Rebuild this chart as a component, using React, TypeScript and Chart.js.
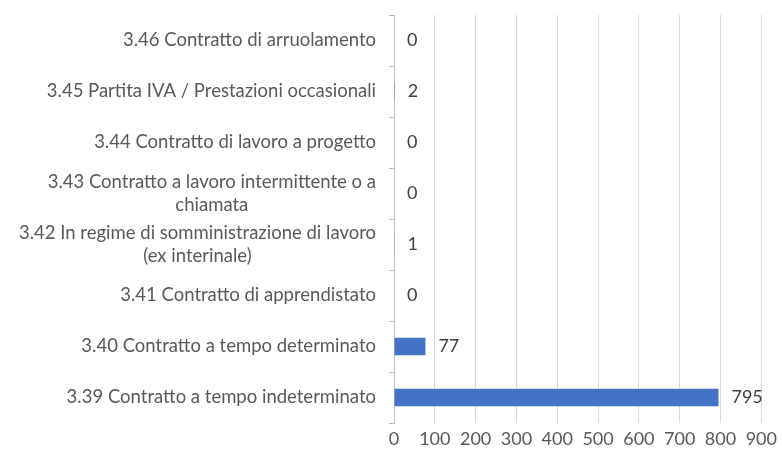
import { useEffect, useRef } from "react";
import { Chart, registerables } from "chart.js";
Chart.register(...registerables);

const categories: string[][] = [
  ["3.46 Contratto di arruolamento"],
  ["3.45 Partita IVA / Prestazioni occasionali"],
  ["3.44 Contratto di lavoro a progetto"],
  ["3.43 Contratto a lavoro intermittente o a", "chiamata"],
  ["3.42 In regime di somministrazione di lavoro", "(ex interinale)"],
  ["3.41 Contratto di apprendistato"],
  ["3.40 Contratto a tempo determinato"],
  ["3.39 Contratto a tempo indeterminato"],
];
const values = [0, 2, 0, 0, 1, 0, 77, 795];
const xMin = 0;
const xMax = 900;
const xStep = 100;

const FONT = "Lato";
const FS = 18.5;
const TICK_FS = 18;
const LH = 23;
const TEXT = "#595959";

const labelPlugin = {
  id: "customLabels",
  afterDraw(chart: any) {
    const ctx = chart.ctx;
    const ys = chart.scales.y;
    const area = chart.chartArea;
    ctx.save();
    ctx.font = `${FS}px ${FONT}`;
    ctx.fillStyle = TEXT;
    ctx.textBaseline = "middle";
    ctx.textAlign = "center";
    const right = area.left - 18;
    categories.forEach((lines, i) => {
      const cy = ys.getPixelForValue(i);
      const maxW = Math.max(...lines.map((l) => ctx.measureText(l).width));
      const cx = right - maxW / 2;
      lines.forEach((l, j) => {
        ctx.fillText(l, cx, cy + (j - (lines.length - 1) / 2) * LH);
      });
    });
    // value labels
    const meta = chart.getDatasetMeta(0);
    ctx.font = `${TICK_FS}px ${FONT}`;
    ctx.textAlign = "left";
    ctx.fillStyle = "#404040";
    meta.data.forEach((el: any, i: number) => {
      ctx.fillText(String(values[i]), el.x + 13, el.y);
    });
    ctx.restore();
  },
};

export default function App() {
  const ref = useRef<HTMLCanvasElement>(null);
  useEffect(() => {
    if (!ref.current) return;
    const chart = new Chart(ref.current, {
      type: "bar",
      data: {
        labels: categories.map((c) => c.join(" ")),
        datasets: [
          {
            data: values,
            backgroundColor: "#4472C4",
            borderWidth: 0,
            barPercentage: 0.34,
            categoryPercentage: 1,
          },
        ],
      },
      options: {
        indexAxis: "y",
        animation: false,
        responsive: false,
        maintainAspectRatio: false,
        layout: { padding: { left: 0, right: 16, top: 15, bottom: 0 } },
        plugins: { legend: { display: false }, tooltip: { enabled: false } },
        scales: {
          x: {
            min: xMin,
            max: xMax,
            ticks: {
              stepSize: xStep,
              color: TEXT,
              font: { family: FONT, size: TICK_FS },
              padding: 5,
            },
            grid: { color: "#d9d9d9", drawTicks: false, lineWidth: 1 },
            border: { display: false },
            afterFit(scale: any) {
              scale.height = 34;
            },
          },
          y: {
            ticks: { color: "rgba(0,0,0,0)", font: { family: FONT, size: FS } },
            grid: {
              offset: true,
              drawOnChartArea: false,
              drawTicks: true,
              tickLength: 5,
              color: "#bfbfbf",
            },
            border: { display: true, color: "#bfbfbf" },
            afterFit(scale: any) {
              scale.width = 394;
            },
          },
        },
      },
      plugins: [labelPlugin],
    });
    return () => chart.destroy();
  }, []);
  return (
    <div style={{ position: "fixed", left: 0, top: 0, width: 782, height: 457, background: "#fff" }}>
      <canvas ref={ref} width={782} height={457} style={{ width: 782, height: 457 }} />
    </div>
  );
}
